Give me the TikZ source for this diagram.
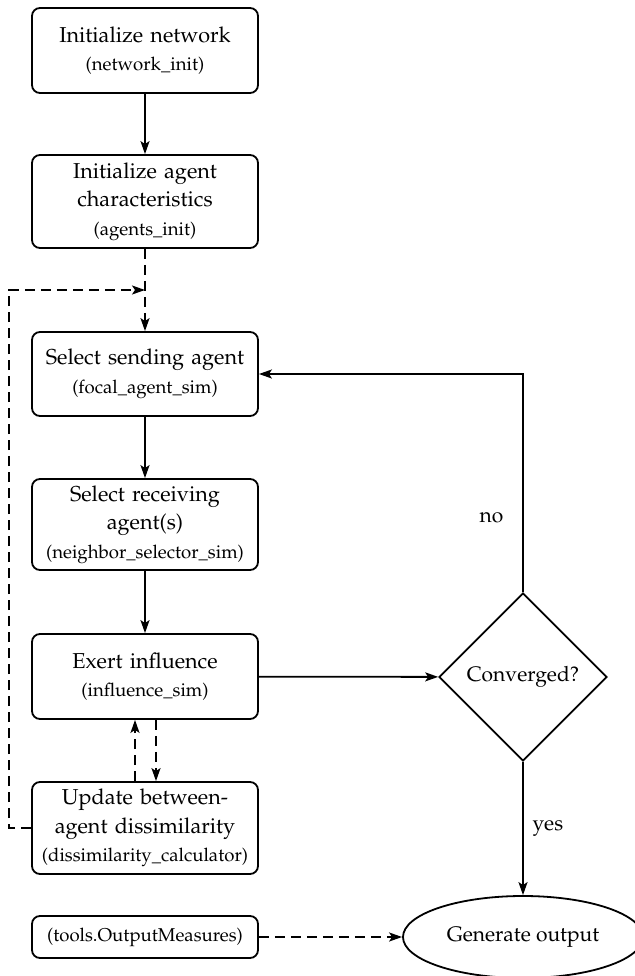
\documentclass[tikz,border=0pt]{standalone}
\usepackage[T1]{fontenc}
\usepackage{mathpazo}
\usetikzlibrary{arrows.meta,shapes.geometric}
\tikzset{
  box/.style={draw, line width=0.9pt, rounded corners=4pt, align=center, text width=110pt, minimum width=113pt, inner sep=0pt, font=\fontsize{10.8}{14.2}\selectfont},
  arr/.style={line width=0.9pt, -{Stealth[length=6.5pt,width=4.5pt,inset=1.5pt]}},
  darr/.style={arr, dash pattern=on 5pt off 3pt},
  lbl/.style={font=\fontsize{10.5}{12}\selectfont}
}
\newcommand{\subt}[1]{{\fontsize{9.3}{14.2}\selectfont #1}}
\begin{document}
\begin{tikzpicture}[x=0.5pt,y=-0.5pt]
\useasboundingbox (0,0) rectangle (635,976);
\node[box, minimum height=42.5pt] (b1) at (145,50.5) {Initialize network\\\subt{(network\_init)}};
\node[box, minimum height=46.5pt] (b2) at (145,201.5) {Initialize agent\\characteristics\\\subt{(agents\_init)}};
\node[box, minimum height=42pt] (b3) at (145,374) {Select sending agent\\\subt{(focal\_agent\_sim)}};
\node[box, minimum height=45.5pt] (b4) at (145,524.5) {Select receiving\\agent(s)\\\subt{(neighbor\_selector\_sim)}};
\node[box, minimum height=42.5pt] (b5) at (145,676.5) {Exert influence\\\subt{(influence\_sim)}};
\node[box, minimum height=46pt] (b6) at (145,828) {Update between-\\agent dissimilarity\\\subt{(dissimilarity\_calculator)}};
\node[box, minimum height=21pt] (b7) at (145,937) {\subt{(tools.OutputMeasures)}};
\node[draw, diamond, line width=0.9pt, minimum width=84pt, minimum height=84pt, inner sep=0pt, aspect=1, lbl] (d) at (523,677) {Converged?};
\node[draw, ellipse, line width=0.9pt, minimum width=120pt, minimum height=41pt, inner sep=0pt, lbl] (e) at (523,937) {Generate output};
\coordinate (j) at (145,290);
\coordinate (lx) at (9,0);
\coordinate (ul) at (135,0);
\coordinate (dl) at (156,0);
\draw[arr] (b1) -- (b2);
\draw[darr] (b2) -- (b3);
\draw[arr] (b3) -- (b4);
\draw[arr] (b4) -- (b5);
\draw[darr] (b6.west) -- (b6.west -| lx) -- (j -| lx) -- (j);
\draw[darr] (b6.north -| ul) -- (b5.south -| ul);
\draw[darr] (b5.south -| dl) -- (b6.north -| dl);
\draw[arr] (b5) -- (d);
\draw[arr] (d.north) |- node[lbl, pos=0.17, left=6pt] (no) {no} (b3.east);
\draw[arr] (d.south) -- node[lbl, right=1pt] (yes) {yes} (e.north);
\draw[darr] (b7.east) -- (e.west);
\end{tikzpicture}
\end{document}
